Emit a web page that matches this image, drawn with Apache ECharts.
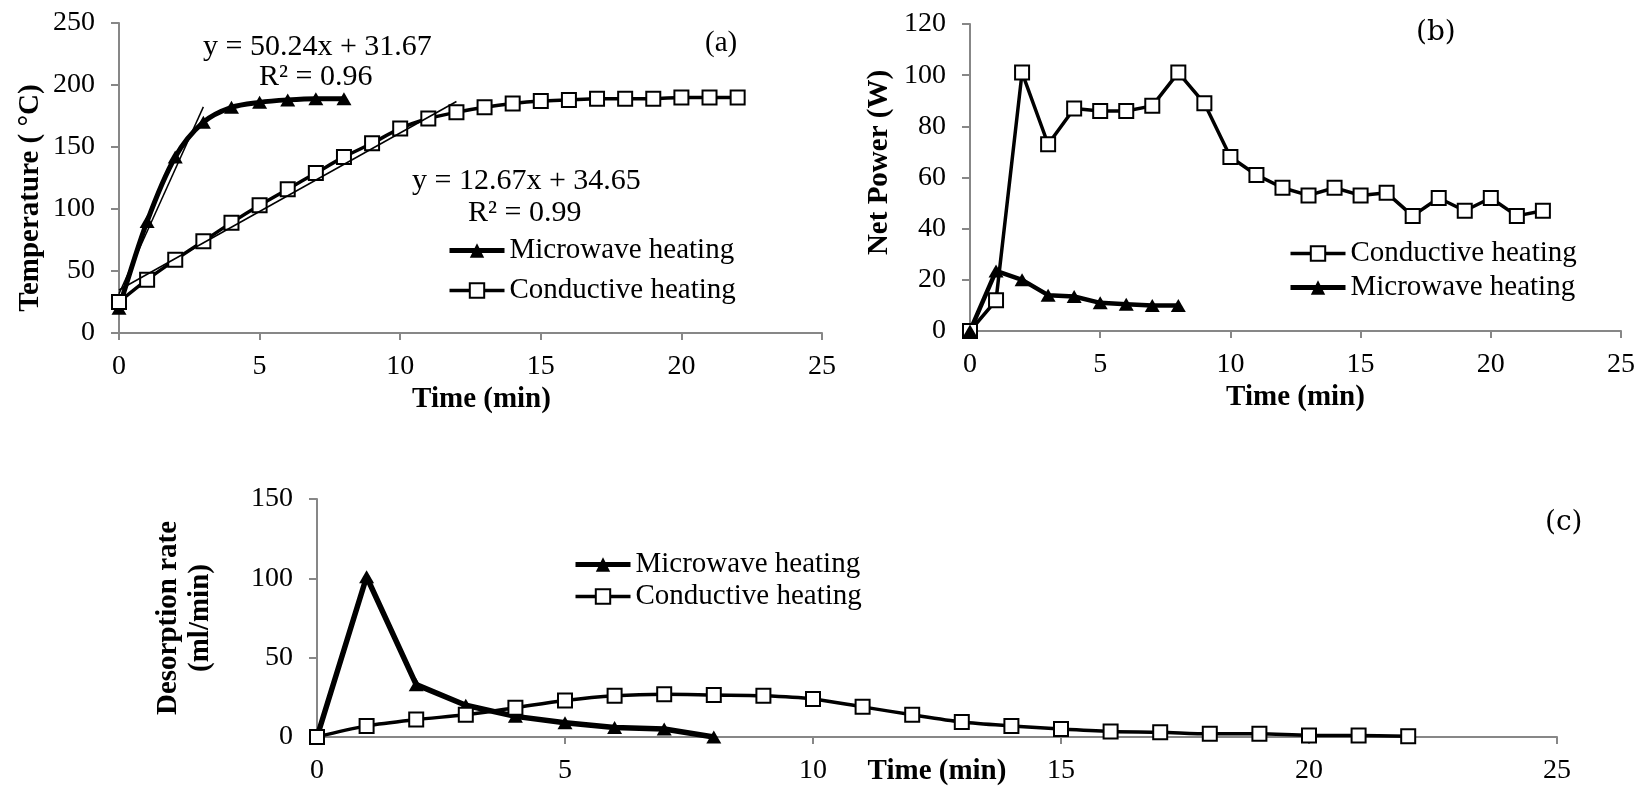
<!DOCTYPE html>
<html>
<head>
<meta charset="utf-8">
<script src="https://cdn.jsdelivr.net/npm/echarts@6/dist/echarts.min.js"></script>
<style>
  html, body { margin: 0; padding: 0; background: #fff; }
  #chart { width: 1639px; height: 787px; }
</style>
</head>
<body>
<div id="chart"></div>
<script>
// time steps (min)
const tMw = [0, 1, 2, 3, 4, 5, 6, 7, 8];
const tCd = [0, 1, 2, 3, 4, 5, 6, 7, 8, 9, 10, 11, 12, 13, 14, 15, 16, 17, 18, 19, 20, 21, 22];

// (a) temperature
const mwTemp = [20, 90, 142, 170, 182, 186, 188, 189, 189];
const cdTemp = [25, 43, 59, 74, 89, 103, 116, 129, 142, 153, 165, 173, 178, 182, 185, 187, 188, 189, 189, 189, 190, 190, 190];
const mwTrend = [[0, 31.7], [3, 182.4]];
const cdTrend = [[0, 34.7], [12, 186.7]];

// (b) net power
const mwPower = [0, 23.5, 20, 14, 13.5, 11, 10.5, 10, 10];
const cdPower = [0, 12, 101, 73, 87, 86, 86, 88, 101, 89, 68, 61, 56, 53, 56, 53, 54, 45, 52, 47, 52, 45, 47];

// (c) desorption rate
const mwRate = [0, 101, 33, 20, 13, 9, 6, 5, 0];
const cdRate = [0, 7, 11, 14, 18.5, 23, 26, 27, 26.5, 26, 24, 19, 14, 9.5, 7, 5, 3.5, 3, 2, 2, 1, 1, 0.5];

const xTicks = [0, 5, 10, 15, 20, 25];

const MW = 'Microwave heating';
const CD = 'Conductive heating';
const serif = 'Liberation Serif';
const grey = '#878787';

const pair = (xs, ys) => xs.map((x, i) => [x, ys[i]]);

const chart = echarts.init(document.getElementById('chart'));

const xAxisBase = (gridIndex, name, gap, pad) => ({
  type: 'value', gridIndex, min: xTicks[0], max: xTicks[xTicks.length - 1], interval: 5,
  name, nameLocation: 'middle', nameGap: gap, nameMoveOverlap: false,
  nameTextStyle: { fontFamily: serif, fontSize: 29, fontWeight: 'bold', color: '#000', padding: pad },
  axisLine: { show: true, lineStyle: { color: grey, width: 2 } },
  axisTick: { show: true, length: 7, lineStyle: { color: grey, width: 2 } },
  axisLabel: { fontFamily: serif, fontSize: 28, color: '#000', margin: 20 },
  splitLine: { show: false }
});

const yAxisBase = (gridIndex, max, interval, name, gap, pad) => ({
  type: 'value', gridIndex, min: 0, max, interval,
  name, nameLocation: 'middle', nameGap: gap, nameRotate: 90, nameMoveOverlap: false,
  nameTextStyle: { fontFamily: serif, fontSize: 29, fontWeight: 'bold', color: '#000', padding: pad, lineHeight: 32 },
  axisLine: { show: true, lineStyle: { color: grey, width: 2 } },
  axisTick: { show: true, length: 8, lineStyle: { color: grey, width: 2 } },
  axisLabel: { fontFamily: serif, fontSize: 28, color: '#000', margin: 24 },
  splitLine: { show: false }
});

const mwSeries = (idx, data, width, smooth) => ({
  name: MW, type: 'line', xAxisIndex: idx, yAxisIndex: idx, data,
  smooth, symbol: 'triangle', symbolSize: [15, 13],
  lineStyle: { color: '#000', width },
  itemStyle: { color: '#000', borderWidth: 0 }
});

const cdSeries = (idx, data, width, smooth) => ({
  name: CD, type: 'line', xAxisIndex: idx, yAxisIndex: idx, data,
  smooth, symbol: 'rect', symbolSize: 14,
  lineStyle: { color: '#000', width },
  itemStyle: { color: '#fff', borderColor: '#000', borderWidth: 2 }
});

const trendSeries = (data) => ({
  type: 'line', xAxisIndex: 0, yAxisIndex: 0, data, symbol: 'none', silent: true,
  lineStyle: { color: '#000', width: 1.5 }, z: 5
});

const legendItem = (name) => name === MW
  ? { name, lineStyle: { width: 5, color: '#000' }, itemStyle: { color: '#000' } }
  : { name, lineStyle: { width: 3.5, color: '#000' }, itemStyle: { color: '#fff', borderColor: '#000', borderWidth: 2 } };

const legendBase = (names, left, top, gap) => ({
  data: names.map(legendItem), left, top, orient: 'vertical',
  itemWidth: 55, itemHeight: 18, itemGap: gap,
  textStyle: { fontFamily: serif, fontSize: 29, color: '#000', lineHeight: 28 }
});

const txt = (text, x, y, font, size) => ({
  type: 'text', x, y,
  style: { text, fontFamily: font, fontSize: size, fill: '#000', verticalAlign: 'middle', align: 'left' }
});

chart.setOption({
  backgroundColor: '#fff',
  animation: false,
  grid: [
    { left: 119, top: 23, width: 703, height: 310, outerBoundsMode: 'none' },
    { left: 970, top: 24, width: 651, height: 307, outerBoundsMode: 'none' },
    { left: 317, top: 499, width: 1240, height: 238, outerBoundsMode: 'none' }
  ],
  xAxis: [
    xAxisBase(0, 'Time (min)', 52, [0, 0, 0, 22]),
    xAxisBase(1, 'Time (min)', 52, [0, 0, 0, 0]),
    xAxisBase(2, 'Time (min)', 20, [0, 0, 0, 0])
  ],
  yAxis: [
    yAxisBase(0, 250, 50, 'Temperature ( °C)', 72, [0, 40, 0, 0]),
    yAxisBase(1, 120, 20, 'Net Power (W)', 74, [0, 0, 0, 30]),
    yAxisBase(2, 150, 50, 'Desorption rate\n(ml/min)', 100, [0, 0, 0, 0])
  ],
  legend: [
    legendBase([MW, CD], 442, 231, 11),
    legendBase([CD, MW], 1283, 234, 5),
    legendBase([MW, CD], 568, 545, 3)
  ],
  graphic: [
    txt('y = 50.24x + 31.67', 203, 47, serif, 30),
    txt('R² = 0.96', 259, 77, serif, 30),
    txt('y = 12.67x + 34.65', 412, 181, serif, 30),
    txt('R² = 0.99', 468, 213, serif, 30),
    txt('(a)', 705, 43, serif, 29),
    txt('(b)', 1416, 33, 'DejaVu Serif', 28),
    txt('(c)', 1545, 523, 'DejaVu Serif', 28)
  ],
  series: [
    mwSeries(0, pair(tMw, mwTemp), 5, 0.3),
    cdSeries(0, pair(tCd, cdTemp), 3.5, 0.3),
    trendSeries(mwTrend),
    trendSeries(cdTrend),
    cdSeries(1, pair(tCd, cdPower), 3.5, false),
    mwSeries(1, pair(tMw, mwPower), 4.5, false),
    mwSeries(2, pair(tMw, mwRate), 5.5, false),
    cdSeries(2, pair(tCd, cdRate), 3.5, 0.3)
  ]
});
</script>
</body>
</html>
